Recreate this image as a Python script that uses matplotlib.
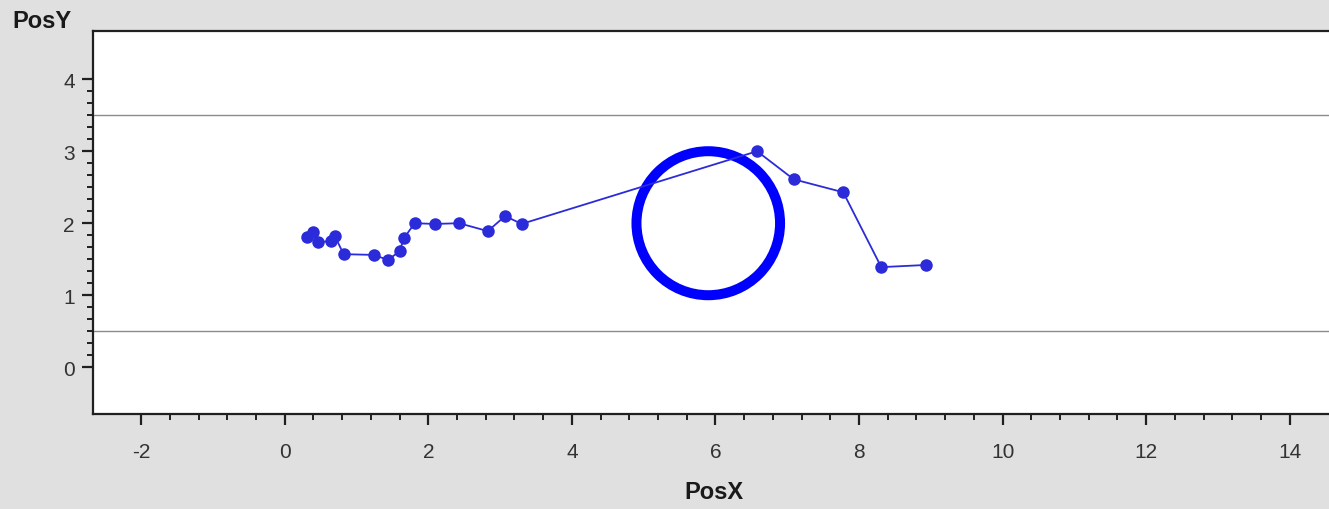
import numpy as np
import matplotlib.pyplot as plt
from matplotlib.patches import Circle

plt.rcParams['font.family'] = ['Liberation Sans', 'DejaVu Sans']
plt.rcParams['axes.unicode_minus'] = False

# walked path
pos_x = [0.31, 0.39, 0.47, 0.64, 0.70, 0.82, 1.24, 1.44, 1.60, 1.66, 1.81,
         2.09, 2.43, 2.83, 3.07, 3.30, 6.58, 7.09, 7.78, 8.31, 8.93]
pos_y = [1.81, 1.88, 1.74, 1.75, 1.82, 1.57, 1.56, 1.49, 1.61, 1.79, 2.00,
         1.99, 2.00, 1.89, 2.10, 1.99, 3.00, 2.61, 2.43, 1.39, 1.42]

# target ring
ring_center = (5.9, 2.0)
ring_radius = 1.0

# lane limits
lane_lines = [3.5, 0.5]

x_ticks = [-2, 0, 2, 4, 6, 8, 10, 12, 14]
y_ticks = [0, 1, 2, 3, 4]

bg = '#e0e0e0'
fig = plt.figure(figsize=(13.29, 5.10), dpi=100, facecolor=bg)
ax = fig.add_axes([93 / 1329, 95 / 510, (1335 - 93) / 1329, (415 - 32) / 510])
ax.set_facecolor('white')

ax.set_xlim(-2.67, 14.63)
ax.set_ylim(-0.65, 4.67)

for yv in lane_lines:
    ax.axhline(yv, color='#8a8a8a', lw=1.0, zorder=1)

ax.add_patch(Circle(ring_center, ring_radius, fill=False, edgecolor='#0000ff',
                    lw=7.2, zorder=2))

ax.plot(pos_x, pos_y, color='#2b2bd9', lw=1.3, marker='o', ms=9,
        markeredgewidth=0, zorder=3)

# minor ticks only between the first and last major tick
x_minor = np.arange(x_ticks[0], x_ticks[-1] + 1e-9, 0.4)
y_minor = np.arange(y_ticks[0], y_ticks[-1] + 1e-9, 1 / 6)
ax.set_xticks(x_ticks)
ax.set_yticks(y_ticks)
ax.set_xticks(x_minor, minor=True)
ax.set_yticks(y_minor, minor=True)

ax.spines['right'].set_visible(False)
for side in ['left', 'bottom', 'top']:
    ax.spines[side].set_linewidth(1.6)
    ax.spines[side].set_color('#202020')

ax.tick_params(which='major', direction='out', length=8, width=1.6,
               color='#202020', labelsize=15, labelcolor='#333333')
ax.tick_params(axis='x', which='major', pad=12)
ax.tick_params(axis='y', which='major', pad=5)
ax.tick_params(which='minor', direction='out', length=4.5, width=1.4,
               color='#202020')

fig.text(714 / 1329, 1 - 493 / 510, 'PosX', ha='center', va='center',
         fontsize=17, fontweight='bold', color='#1a1a1a')
fig.text(12 / 1329, 1 - 22 / 510, 'PosY', ha='left', va='center',
         fontsize=17, fontweight='bold', color='#1a1a1a')

fig.savefig('out.png', dpi=100, facecolor=bg)
